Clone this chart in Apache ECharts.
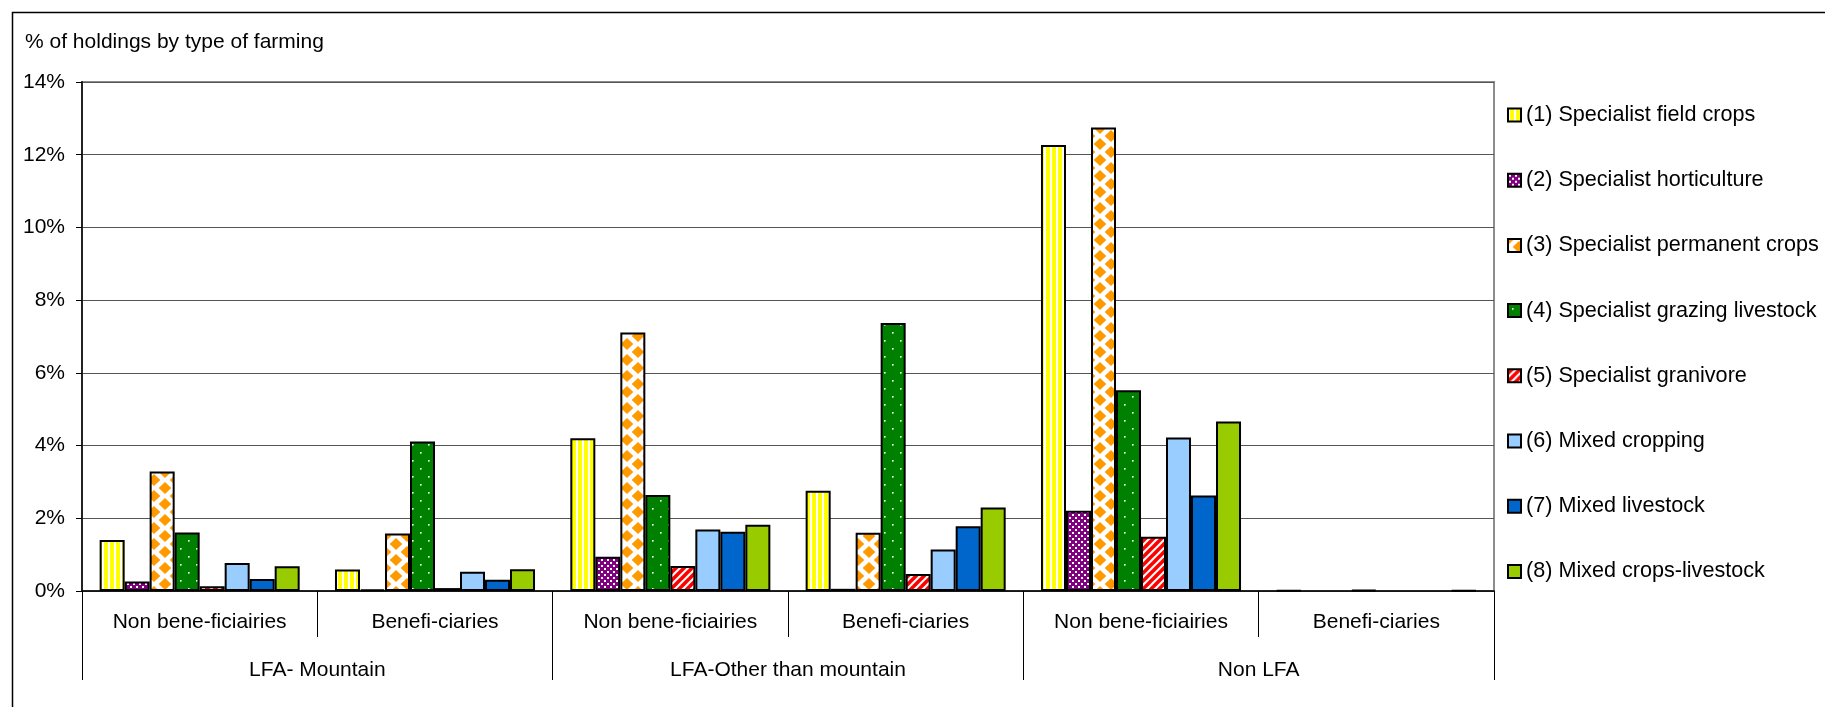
<!DOCTYPE html>
<html>
<head>
<meta charset="utf-8">
<script src="https://cdn.jsdelivr.net/npm/echarts@6/dist/echarts.min.js"></script>
<style>
html,body{margin:0;padding:0;background:#fff;}
#chart{width:1825px;height:707px;}
</style>
</head>
<body>
<div id="chart"></div>
<script>
// ---- data ----
const categories = ['Non bene-ficiairies', 'Benefi-ciaries', 'Non bene-ficiairies', 'Benefi-ciaries', 'Non bene-ficiairies', 'Benefi-ciaries'];
const groups = ['LFA- Mountain', 'LFA-Other than mountain', 'Non LFA'];
const seriesNames = [
  '(1) Specialist field crops',
  '(2) Specialist horticulture',
  '(3) Specialist permanent crops',
  '(4) Specialist grazing livestock',
  '(5) Specialist granivore',
  '(6) Mixed cropping',
  '(7) Mixed livestock',
  '(8) Mixed crops-livestock'
];
const fieldCrops      = [1.40, 0.59, 4.20, 2.76, 12.27, 0.02];
const horticulture    = [0.26, 0.04, 0.94, 0.06, 2.21, 0];
const permanentCrops  = [3.29, 1.58, 7.11, 1.60, 12.75, 0];
const grazingLivestock= [1.61, 4.11, 2.64, 7.37, 5.52, 0.03];
const granivore       = [0.13, 0.08, 0.69, 0.47, 1.49, 0];
const mixedCropping   = [0.77, 0.53, 1.69, 1.14, 4.22, 0];
const mixedLivestock  = [0.33, 0.31, 1.63, 1.78, 2.63, 0];
const mixedCropsLive  = [0.68, 0.60, 1.82, 2.30, 4.66, 0.02];
const yTicks = {min: 0, max: 14, interval: 2};

// ---- patterns ----
function makeCanvas(w, h, draw) {
  const c = document.createElement('canvas');
  c.width = w; c.height = h;
  draw(c.getContext('2d'), w, h);
  return c;
}
const patYellow = makeCanvas(6, 6, (ctx) => {
  ctx.fillStyle = '#ffff00'; ctx.fillRect(0, 0, 6, 6);
  ctx.fillStyle = '#ffffff'; ctx.fillRect(0, 0, 2, 6);
});
const patPurple = makeCanvas(6, 6, (ctx) => {
  ctx.fillStyle = '#800080'; ctx.fillRect(0, 0, 6, 6);
  ctx.fillStyle = '#ffffff'; ctx.fillRect(1, 1, 2, 2); ctx.fillRect(4, 4, 2, 2);
});
const patOrange = makeCanvas(22, 16, (ctx) => {
  ctx.fillStyle = '#ffffff'; ctx.fillRect(0, 0, 22, 16);
  ctx.fillStyle = '#ff9900';
  const d = (cx, cy) => { ctx.beginPath(); ctx.moveTo(cx, cy - 6); ctx.lineTo(cx + 6.3, cy); ctx.lineTo(cx, cy + 6); ctx.lineTo(cx - 6.3, cy); ctx.closePath(); ctx.fill(); };
  d(11, 8); d(0, 0); d(22, 0); d(0, 16); d(22, 16);
});
const patGreen = makeCanvas(16, 16, (ctx) => {
  ctx.fillStyle = '#008000'; ctx.fillRect(0, 0, 16, 16);
  ctx.fillStyle = '#ffffff'; ctx.fillRect(4, 4, 1.6, 1.6); ctx.fillRect(12, 12, 1.6, 1.6);
});
const patRed = makeCanvas(8, 8, (ctx) => {
  ctx.fillStyle = '#ff0000'; ctx.fillRect(0, 0, 8, 8);
  ctx.strokeStyle = '#ffffff'; ctx.lineWidth = 2;
  [[0, 8, 8, 0], [-4, 4, 4, -4], [4, 12, 12, 4]].forEach(([a, b, c, d]) => { ctx.beginPath(); ctx.moveTo(a, b); ctx.lineTo(c, d); ctx.stroke(); });
});

const fills = [
  {image: patYellow, repeat: 'repeat'},
  {image: patPurple, repeat: 'repeat'},
  {image: patOrange, repeat: 'repeat'},
  {image: patGreen, repeat: 'repeat'},
  {image: patRed, repeat: 'repeat'},
  '#99ccff',
  '#0066cc',
  '#99cc00'
];
const seriesValues = [fieldCrops, horticulture, permanentCrops, grazingLivestock, granivore, mixedCropping, mixedLivestock, mixedCropsLive];

const FONT = '"Liberation Sans", Arial, sans-serif';
const FS = 21;

const chart = echarts.init(document.getElementById('chart'), null, {renderer: 'canvas'});
chart.setOption({
  animation: false,
  backgroundColor: '#fff',
  textStyle: {fontFamily: FONT, color: '#000'},
  title: {
    text: '% of holdings by type of farming',
    left: 20, top: 27,
    textStyle: {fontFamily: FONT, fontSize: FS, fontWeight: 'normal', color: '#000'}
  },
  graphic: [{
    type: 'rect', left: 10, top: 10, silent: true,
    shape: {width: 1830, height: 710},
    style: {fill: 'none', stroke: '#000', lineWidth: 1.5}
  }],
  legend: {
    orient: 'vertical', left: 1502, top: 99,
    itemWidth: 13, itemHeight: 13, itemGap: 43.2,
    icon: 'rect',
    textStyle: {fontFamily: FONT, fontSize: 21.6, color: '#000', lineHeight: 20},
    data: seriesNames
  },
  grid: {
    left: 82, top: 82, right: 331, bottom: 116,
    show: true, borderColor: '#8c8c8c', borderWidth: 2, containLabel: false
  },
  xAxis: [{
    type: 'category', data: categories, position: 'bottom',
    axisLine: {lineStyle: {color: '#000', width: 1.5}},
    axisTick: {show: true, length: 46, interval: 0, lineStyle: {color: '#000', width: 1}},
    axisLabel: {interval: 0, margin: 21, fontSize: FS, fontFamily: FONT, color: '#000'},
    splitLine: {show: false}
  }, {
    type: 'category', data: groups, position: 'bottom',
    axisLine: {show: false},
    axisTick: {show: true, length: 89, interval: 0, lineStyle: {color: '#000', width: 1}},
    axisLabel: {interval: 0, margin: 69, fontSize: FS, fontFamily: FONT, color: '#000'},
    splitLine: {show: false}
  }],
  yAxis: {
    type: 'value', min: yTicks.min, max: yTicks.max, interval: yTicks.interval,
    axisLine: {show: true, lineStyle: {color: '#222', width: 2}},
    axisTick: {show: true, length: 6, lineStyle: {color: '#000'}},
    axisLabel: {formatter: '{value}%', margin: 17, fontSize: FS, fontFamily: FONT, color: '#000'},
    splitLine: {lineStyle: {color: '#555', width: 1}}
  },
  series: seriesNames.map((name, i) => ({
    name: name, type: 'bar', xAxisIndex: 0,
    barGap: '0%', barCategoryGap: '15%',
    itemStyle: {color: fills[i], borderColor: '#000', borderWidth: 2},
    emphasis: {disabled: true},
    data: seriesValues[i].map(v => v === 0 ? '-' : v)
  }))
});
</script>
</body>
</html>
